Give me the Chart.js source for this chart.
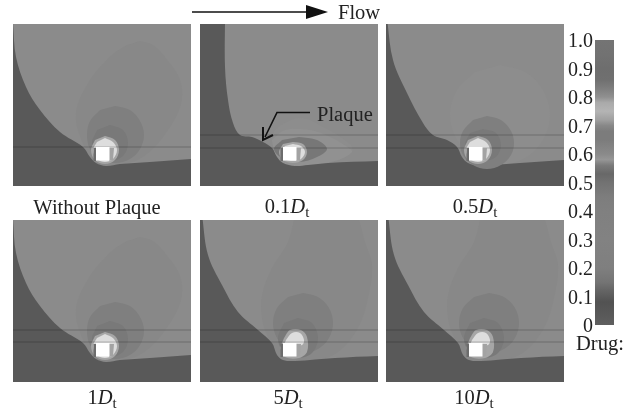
<!DOCTYPE html>
<html>
<head>
<meta charset="utf-8">
<script src="https://cdn.jsdelivr.net/npm/chart.js@4"></script>
<style>
  html, body { margin: 0; padding: 0; background: #fff; }
  #page { position: relative; width: 630px; height: 413px; overflow: hidden; font-family: "Liberation Serif", serif; color: #222; }
  canvas { position: absolute; }
  canvas.panel { filter: blur(0.6px); }
  .txt { position: absolute; font-size: 20.5px; line-height: 24px; white-space: nowrap; }
  .cap { transform: translateX(-50%); }
  .txt sub { font-size: 15px; line-height: 0; vertical-align: -4px; }
  svg { position: absolute; left: 0; top: 0; }
</style>
</head>
<body>
<div id="page">
  <canvas class="panel" id="p1" width="178" height="162" style="left:13px;top:24px"></canvas>
  <canvas class="panel" id="p2" width="178" height="162" style="left:200px;top:24px"></canvas>
  <canvas class="panel" id="p3" width="178" height="162" style="left:386px;top:24px"></canvas>
  <canvas class="panel" id="p4" width="178" height="162" style="left:13px;top:220px"></canvas>
  <canvas class="panel" id="p5" width="178" height="162" style="left:200px;top:220px"></canvas>
  <canvas class="panel" id="p6" width="178" height="162" style="left:386px;top:220px"></canvas>
  <canvas id="bar" width="54" height="309" style="left:560px;top:28px"></canvas>

  <svg width="630" height="413">
    <line x1="192" y1="12" x2="310" y2="12" stroke="#111" stroke-width="1.6"/>
    <polygon points="306,5 328,12 306,19" fill="#111"/>
    <polyline points="310,112.5 277,112.5 265,137" fill="none" stroke="#111" stroke-width="1.6"/>
    <polyline points="263,127 263,140 273,135" fill="none" stroke="#111" stroke-width="2"/>
  </svg>

  <div class="txt" style="left:338px;top:0px">Flow</div>
  <div class="txt" style="left:317px;top:102px">Plaque</div>
  <div class="txt cap" style="left:97px;top:195px">Without Plaque</div>
  <div class="txt cap" style="left:287px;top:194px">0.1<i>D</i><sub>t</sub></div>
  <div class="txt cap" style="left:475px;top:194px">0.5<i>D</i><sub>t</sub></div>
  <div class="txt cap" style="left:102px;top:385px">1<i>D</i><sub>t</sub></div>
  <div class="txt cap" style="left:288px;top:385px">5<i>D</i><sub>t</sub></div>
  <div class="txt cap" style="left:474px;top:385px">10<i>D</i><sub>t</sub></div>
  <div class="txt" style="left:576px;top:331px">Drug:</div>
</div>

<script>
  // colour bar
  var drugTicks = ['0', '0.1', '0.2', '0.3', '0.4', '0.5', '0.6', '0.7', '0.8', '0.9', '1.0'];
  var drugLevels = [0, 0.04, 0.08, 0.12, 0.15, 0.2, 0.3, 0.4, 0.45, 0.5, 0.53, 0.56, 0.58, 0.6, 0.65, 0.68, 0.7, 0.72, 0.75, 0.78, 0.8, 0.83, 0.86, 0.9, 0.95, 1];
  var drugGrays = [95, 88, 82, 100, 116, 127, 130, 128, 125, 114, 104, 122, 150, 138, 124, 124, 136, 160, 180, 170, 144, 126, 112, 110, 114, 116];

  // contours, x/y measured across a panel from its top left corner
  var wallA = [[0,0],[3,33],[13,63],[27,86],[47,108],[70,123],[77,133],[83,139],[93,142],[107,140],[137,138],[178,135],[190,135],[190,175],[-10,175],[-10,0]];
  var plumeA = [[127,17],[140,21],[152,33],[167,56],[168,80],[153,109],[130,133],[103,142],[85,142],[70,120],[63,89],[77,56],[100,30],[114,21]];
  var circleA = [[102,82],[117,86],[127,97],[131,111],[127,125],[117,135],[102,139],[87,135],[77,125],[74,111],[77,97],[87,86]];
  var innerA = [[97,101],[110,106],[115,119],[110,132],[97,137],[84,132],[79,119],[84,106]];

  var wallB = [[25,-5],[25,43],[28,76],[33,99],[40,111],[52,113],[63,118],[72,124],[77,133],[83,139],[95,142],[108,141],[128,139],[178,137],[190,137],[190,175],[-10,175],[-10,-5]];
  var plumeB = [[72,120],[75,106],[100,94],[125,104],[150,120],[152,128],[135,137],[100,142],[80,138]];
  var bandB = [[72,116],[85,106],[110,106],[128,112],[146,122],[152,128],[135,137],[100,142],[80,138],[74,128]];
  var innerB = [[99,113],[117,116],[127,125],[117,133],[99,138],[82,134],[74,125],[82,116]];

  var wallC = [[1,-5],[7,36],[21,69],[37,99],[47,111],[61,116],[71,123],[76,133],[82,139],[94,142],[107,141],[134,139],[178,136],[190,136],[190,175],[-10,175],[-10,-5]];
  var plumeC = [[114,41],[139,48],[157,66],[164,91],[157,116],[139,134],[114,141],[89,134],[71,116],[64,91],[71,66],[89,48]];
  var circleC = [[101,92],[115,96],[125,107],[128,119],[125,131],[115,141],[101,145],[87,141],[77,131],[74,119],[77,107],[87,96]];
  var innerC = [[97,105],[110,109],[115,121],[110,133],[97,137],[84,133],[79,121],[84,109]];

  var wallD = [[2,-5],[8,35],[22,65],[38,92],[58,110],[72,123],[77,135],[83,140],[95,141],[135,138],[178,136],[190,136],[190,175],[-10,175],[-10,-5]];
  var plumeD = [[95,-5],[88,22],[72,48],[62,75],[62,98],[67,115],[80,139],[112,141],[138,132],[158,108],[168,78],[172,45],[165,22],[158,-5]];
  var circleD = [[103,73],[118,77],[129,88],[133,103],[129,118],[118,129],[103,133],[88,129],[77,118],[73,103],[77,88],[88,77]];
  var innerD = [[98,98],[112,103],[118,118],[112,133],[98,138],[84,133],[78,118],[84,103]];

  // hot zone around the square
  var haloA = [[92,112],[102,116],[106,126],[102,136],[92,140],[82,136],[78,126],[82,116]];
  var ringA = [[92,114],[100,118],[104,126],[100,135],[92,138],[84,135],[80,126],[84,118]];
  var haloB = [[93,118],[103,120],[107,128],[103,136],[93,139],[83,136],[79,128],[83,120]];
  var ringB = [[93,120],[101,122],[105,128],[101,135],[93,137],[85,135],[81,128],[85,122]];
  var haloD = [[84,118],[90,110],[101,110],[107,117],[107,132],[99,138],[85,137],[80,128]];
  var ringD = [[86,120],[92,113],[100,113],[104,120],[102,125],[92,125],[84,125]];
  var shadeL = [[80.5,124],[83,124],[83,137],[80.5,137]];
  var shadeR = [[96,124],[101,124],[100,136],[96,137]];
  var square = [[83,123],[96.5,123],[96.5,136.5],[83,136.5]];
  var field = [[0,0],[178,0],[178,162],[0,162]];

  // thin horizontal lines across each panel
  var linesOne = [123];
  var linesTwoTop = [111, 124];
  var linesTwoLow = [110, 122];

  var GRAY = { field: '#8b8b8b', plume: '#888888', plumeC: '#8d8d8d', circle: '#7f7f7f', inner: '#797979', wall: '#595959', halo: '#a6a6a6', ring: '#dddddd', left: '#6c6c6c', right: '#a3a3a3', band: '#919191', innerB: '#777777' };

  Chart.defaults.animation = false;

  function toPoints(list) {
    return list.map(function (p) { return { x: p[0], y: p[1] }; });
  }

  function layer(pts, color, tension) {
    return { type: 'scatter', data: toPoints(pts), showLine: true, fill: 'shape', backgroundColor: color, borderWidth: 0, pointRadius: 0, tension: tension === undefined ? 0.35 : tension };
  }

  function drawPanel(id, layers, lines) {
    var sets = layers.slice();
    lines.forEach(function (y) {
      sets.push({ type: 'scatter', data: toPoints([[0, y], [178, y]]), showLine: true, borderColor: 'rgba(0,0,0,0.22)', borderWidth: 1, pointRadius: 0, fill: false });
    });
    sets.push(layer(shadeL, GRAY.left, 0));
    sets.push(layer(shadeR, GRAY.right, 0));
    sets.push(layer(square, '#ffffff', 0));
    sets.forEach(function (s, i) { s.order = sets.length - i; });
    new Chart(document.getElementById(id), {
      type: 'scatter',
      data: { datasets: sets },
      options: {
        responsive: false,
        layout: { padding: 0 },
        plugins: { legend: { display: false }, tooltip: { enabled: false } },
        scales: {
          x: { type: 'linear', display: false, min: 0, max: 178 },
          y: { type: 'linear', display: false, min: 0, max: 162, reverse: true }
        }
      }
    });
  }

  function layersA() {
    return [layer(field, GRAY.field, 0), layer(plumeA, GRAY.plume), layer(wallA, GRAY.wall), layer(circleA, GRAY.circle), layer(innerA, GRAY.inner), layer(haloA, GRAY.halo), layer(ringA, GRAY.ring)];
  }
  function layersD() {
    return [layer(field, GRAY.field, 0), layer(plumeD, GRAY.plume), layer(wallD, GRAY.wall), layer(circleD, GRAY.circle), layer(innerD, GRAY.inner), layer(haloD, GRAY.halo), layer(ringD, GRAY.ring)];
  }

  drawPanel('p1', layersA(), linesOne);
  drawPanel('p2', [layer(field, GRAY.field, 0), layer(plumeB, GRAY.plumeC), layer(bandB, GRAY.band), layer(wallB, GRAY.wall), layer(innerB, GRAY.innerB), layer(haloB, GRAY.halo), layer(ringB, GRAY.ring)], linesTwoTop);
  drawPanel('p3', [layer(field, GRAY.field, 0), layer(plumeC, GRAY.plumeC), layer(wallC, GRAY.wall), layer(circleC, GRAY.circle), layer(innerC, GRAY.inner), layer(haloA, GRAY.halo), layer(ringA, GRAY.ring)], linesTwoTop);
  drawPanel('p4', layersA(), linesTwoLow);
  drawPanel('p5', layersD(), linesTwoLow);
  drawPanel('p6', layersD(), linesTwoLow);

  // colour bar: a single floating bar, shaded along the y scale
  function barShade(ctx) {
    var chart = ctx.chart;
    if (!chart.chartArea) return '#808080';
    var y = chart.scales.y;
    var grad = chart.ctx.createLinearGradient(0, y.getPixelForValue(0), 0, y.getPixelForValue(1));
    drugLevels.forEach(function (v, i) {
      var g = drugGrays[i];
      grad.addColorStop(v, 'rgb(' + g + ',' + g + ',' + g + ')');
    });
    return grad;
  }
  new Chart(document.getElementById('bar'), {
    type: 'bar',
    data: { labels: ['Drug'], datasets: [{ data: [[0, 1]], backgroundColor: barShade, borderWidth: 0, barPercentage: 1, categoryPercentage: 1 }] },
    options: {
      responsive: false,
      layout: { padding: { top: 12, bottom: 12 } },
      plugins: { legend: { display: false }, tooltip: { enabled: false } },
      scales: {
        x: { display: false },
        y: {
          min: 0, max: 1,
          afterFit: function (s) { s.width = 35; s.paddingTop = 0; s.paddingBottom = 0; },
          grid: { display: false, drawTicks: false },
          border: { display: false },
          ticks: {
            stepSize: 0.1, autoSkip: false, padding: 2, color: '#222', labelOffset: 2,
            font: { family: '"Liberation Serif", serif', size: 20 },
            callback: function (v) { return drugTicks[Math.round(v * 10)]; }
          }
        }
      }
    }
  });
</script>
</body>
</html>
